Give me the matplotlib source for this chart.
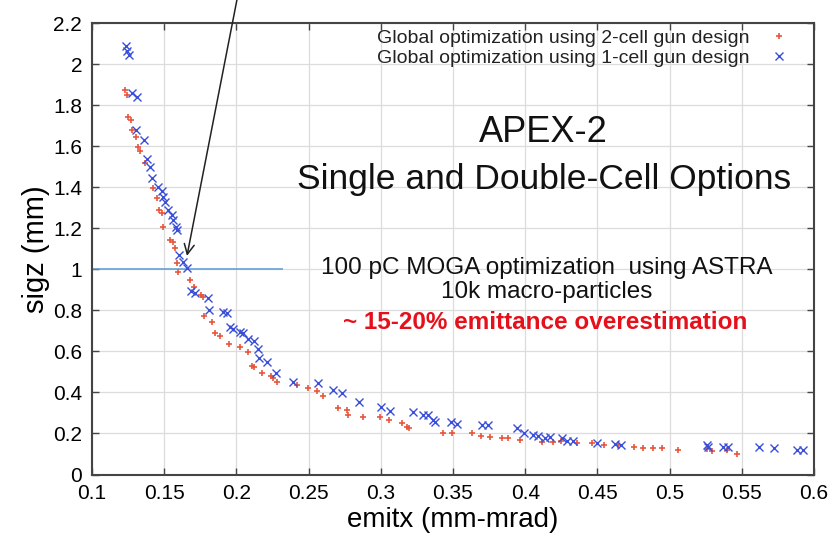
import matplotlib
matplotlib.use("Agg")
import matplotlib.pyplot as plt

plt.rcParams['font.family'] = ['Liberation Sans', 'DejaVu Sans']

# 2-cell gun design (red +)
two_x = [0.1229, 0.1240, 0.1251, 0.1270, 0.1279, 0.1303, 0.1321, 0.1332, 0.1367, 0.1425,
         0.1448, 0.1466, 0.1483, 0.1494, 0.1540, 0.1559, 0.1575, 0.1587, 0.1598, 0.1679,
         0.1706, 0.1753, 0.1771, 0.1776, 0.1829, 0.1852, 0.1886, 0.1951, 0.2025, 0.2082,
         0.2106, 0.2122, 0.2175, 0.2238, 0.2251, 0.2279, 0.2418, 0.2498, 0.2556, 0.2598,
         0.2706, 0.2764, 0.2775, 0.2879, 0.2994, 0.3059, 0.3145, 0.3184, 0.3197, 0.3433,
         0.3491, 0.3630, 0.3693, 0.3758, 0.3837, 0.3883, 0.3964, 0.4114, 0.4195, 0.4245,
         0.4357, 0.4460, 0.4546, 0.4645, 0.4753, 0.4818, 0.4883, 0.4945, 0.5060, 0.5257,
         0.5292, 0.5395, 0.5465]
two_y = [1.876, 1.851, 1.742, 1.729, 1.680, 1.645, 1.599, 1.575, 1.518, 1.396,
         1.347, 1.290, 1.274, 1.209, 1.144, 1.136, 1.103, 1.030, 0.989, 0.949,
         0.916, 0.876, 0.867, 0.773, 0.745, 0.692, 0.676, 0.637, 0.620, 0.599,
         0.529, 0.523, 0.497, 0.480, 0.469, 0.453, 0.437, 0.420, 0.407, 0.381,
         0.323, 0.313, 0.290, 0.282, 0.280, 0.267, 0.250, 0.233, 0.225, 0.201,
         0.201, 0.201, 0.190, 0.184, 0.177, 0.177, 0.168, 0.160, 0.160, 0.163,
         0.155, 0.155, 0.144, 0.144, 0.136, 0.128, 0.128, 0.128, 0.120, 0.123,
         0.116, 0.120, 0.100]

# 1-cell gun design (blue x)
one_x = [0.1233, 0.1240, 0.1256, 0.1275, 0.1310, 0.1305, 0.1362, 0.1379, 0.1402, 0.1413,
         0.1459, 0.1483, 0.1494, 0.1506, 0.1528, 0.1552, 0.1563, 0.1582, 0.1591, 0.1605,
         0.1628, 0.1660, 0.1684, 0.1713, 0.1805, 0.1812, 0.1905, 0.1937, 0.1956, 0.1979,
         0.2025, 0.2044, 0.2082, 0.2122, 0.2152, 0.2159, 0.2210, 0.2274, 0.2394, 0.2567,
         0.2671, 0.2729, 0.2851, 0.3001, 0.3064, 0.3221, 0.3290, 0.3325, 0.3361, 0.3375,
         0.3483, 0.3528, 0.3699, 0.3744, 0.3941, 0.3992, 0.4056, 0.4091, 0.4137, 0.4172,
         0.4253, 0.4287, 0.4329, 0.4495, 0.4622, 0.4661, 0.5259, 0.5264, 0.5369, 0.5407,
         0.5621, 0.5723, 0.5880, 0.5926]
one_y = [2.087, 2.067, 2.046, 1.862, 1.840, 1.680, 1.632, 1.538, 1.501, 1.445,
         1.404, 1.380, 1.355, 1.331, 1.290, 1.266, 1.241, 1.209, 1.193, 1.071,
         1.038, 1.006, 0.894, 0.884, 0.860, 0.802, 0.794, 0.786, 0.721, 0.708,
         0.697, 0.689, 0.660, 0.653, 0.611, 0.567, 0.550, 0.494, 0.453, 0.445,
         0.412, 0.399, 0.355, 0.329, 0.311, 0.303, 0.290, 0.288, 0.264, 0.258,
         0.258, 0.248, 0.241, 0.241, 0.225, 0.204, 0.193, 0.188, 0.177, 0.181,
         0.177, 0.165, 0.165, 0.155, 0.149, 0.144, 0.144, 0.136, 0.136, 0.136,
         0.136, 0.128, 0.120, 0.120]

x_ticks = [0.1, 0.15, 0.2, 0.25, 0.3, 0.35, 0.4, 0.45, 0.5, 0.55, 0.6]
x_labels = ['0.1', '0.15', '0.2', '0.25', '0.3', '0.35', '0.4', '0.45', '0.5', '0.55', '0.6']
y_ticks = [0, 0.2, 0.4, 0.6, 0.8, 1.0, 1.2, 1.4, 1.6, 1.8, 2.0, 2.2]
y_labels = ['0', '0.2', '0.4', '0.6', '0.8', '1', '1.2', '1.4', '1.6', '1.8', '2', '2.2']

fig = plt.figure(figsize=(8.33, 5.38), dpi=100)
ax = fig.add_axes([0.1104, 0.118, 0.8668, 0.8387])

ax.set_xlim(0.1, 0.6)
ax.set_ylim(0, 2.2)
ax.set_xticks(x_ticks)
ax.set_xticklabels(x_labels)
ax.set_yticks(y_ticks)
ax.set_yticklabels(y_labels)
ax.grid(True, color='#dcdcdc', linewidth=0.9, zorder=0)
ax.tick_params(direction='in', top=True, right=True, length=5, width=1,
               labelsize=15, pad=7, color='#444444')
for s in ax.spines.values():
    s.set_color('#444444')
    s.set_linewidth(1.5)

ax.plot(two_x, two_y, linestyle='none', marker='+', markersize=5, mew=1.2,
        color='#e8563c', label='Global optimization using 2-cell gun design', zorder=3)
ax.plot(one_x, one_y, linestyle='none', marker='x', markersize=6, mew=1.0,
        color='#3a4fd8', label='Global optimization using 1-cell gun design', zorder=3)

ax.hlines(1.0, 0.1, 0.2323, color='#5b9bd5', linewidth=1.1, zorder=2)

ax.annotate('', xy=(0.1658, 1.066), xytext=(0.2011, 2.34),
            arrowprops=dict(arrowstyle='->', color='#222222', lw=1.1,
                            mutation_scale=18, shrinkA=0, shrinkB=0),
            annotation_clip=False)

leg = ax.legend(loc='upper right', frameon=False, markerfirst=False, fontsize=14,
                handlelength=1.0, handletextpad=1.0, borderaxespad=0.3,
                labelspacing=0.1, bbox_to_anchor=(0.984, 1.016))
for t in leg.get_texts():
    t.set_color('#222222')

ax.text(0.4123, 1.666, 'APEX-2', fontsize=26, ha='center', va='center', color='#111111')
ax.text(0.4130, 1.437, 'Single and Double-Cell Options', fontsize=25.5, ha='center',
        va='center', color='#111111')
ax.text(0.4151, 1.007, '100 pC MOGA optimization  using ASTRA', fontsize=17.5,
        ha='center', va='center', color='#111111')
ax.text(0.4151, 0.888, '10k macro-particles', fontsize=17.5, ha='center', va='center',
        color='#111111')
ax.text(0.4140, 0.739, '~ 15-20% emittance overestimation', fontsize=17.5, ha='center',
        va='center', color='#e5101a', fontweight='bold')

ax.set_xlabel('emitx (mm-mrad)', fontsize=20, labelpad=3)
ax.set_ylabel('sigz (mm)', fontsize=21, labelpad=2)

fig.savefig('out.png', dpi=100)
